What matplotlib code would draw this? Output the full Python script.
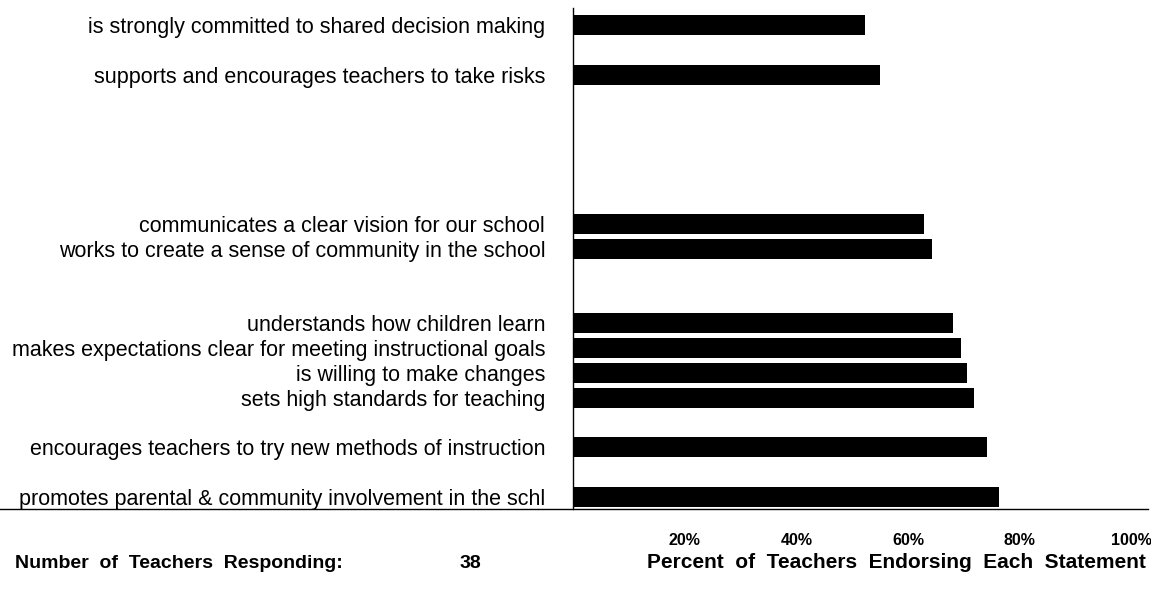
import matplotlib
matplotlib.use("Agg")
import matplotlib.pyplot as plt


# Data (top to bottom)

statements = [
    "is strongly committed to shared decision making",
    "supports and encourages teachers to take risks",
    "communicates a clear vision for our school",
    "works to create a sense of community in the school",
    "understands how children learn",
    "makes expectations clear for meeting instructional goals",
    "is willing to make changes",
    "sets high standards for teaching",
    "encourages teachers to try new methods of instruction",
    "promotes parental & community involvement in the schl",
]
percent_endorsing = [52.3, 55.0, 62.9, 64.3, 68.1, 69.5, 70.6, 71.9, 74.2, 76.3]
tick_values = [20, 40, 60, 80, 100]
tick_labels = ["20%", "40%", "60%", "80%", "100%"]
n_teachers = 38

# Layout: row slot of each statement, counted from the bottom
row_slots = [19, 17, 11, 10, 7, 6, 5, 4, 2, 0]

W, H = 1151, 590
FONT = ["Liberation Sans", "DejaVu Sans"]


def spaced(s, n=2):
    # the scanned original has wide gaps between words
    return (" " * n).join(s.split(" "))


fig = plt.figure(figsize=(W / 100, H / 100), dpi=100)
ax = fig.add_axes([573 / W, 1 - 509 / H, 575 / W, 501 / H])

ax.barh(row_slots, percent_endorsing, height=0.8, color="black")
ax.set_xlim(0, 103)
ax.set_ylim(-0.48, 19.7)

# Axis lines: vertical at 0%, horizontal base running under the labels
for side in ["top", "right", "bottom"]:
    ax.spines[side].set_visible(False)
ax.spines["left"].set_linewidth(1.0)
ax.axhline(-0.48, xmin=-573 / 575, xmax=1.0, color="black",
           linewidth=1.0, clip_on=False)

ax.set_yticks(row_slots)
ax.set_yticklabels(statements, family=FONT, fontsize=15.5)
ax.tick_params(axis="y", length=0, pad=20)

ax.set_xticks(tick_values)
ax.set_xticklabels(tick_labels, family=FONT, fontweight="bold", fontsize=11.5)
ax.tick_params(axis="x", length=0, pad=17)

# Footer text
y_foot = 1 - 563 / H
fig.text(15 / W, y_foot, spaced("Number of Teachers Responding:"),
         family=FONT, fontweight="bold", fontsize=14, va="center")
fig.text(470 / W, y_foot, str(n_teachers),
         family=FONT, fontweight="bold", fontsize=14,
         ha="center", va="center")
fig.text(896 / W, y_foot, spaced("Percent of Teachers Endorsing Each Statement"),
         family=FONT, fontweight="bold", fontsize=15,
         ha="center", va="center")

fig.savefig("out.png", dpi=100)
